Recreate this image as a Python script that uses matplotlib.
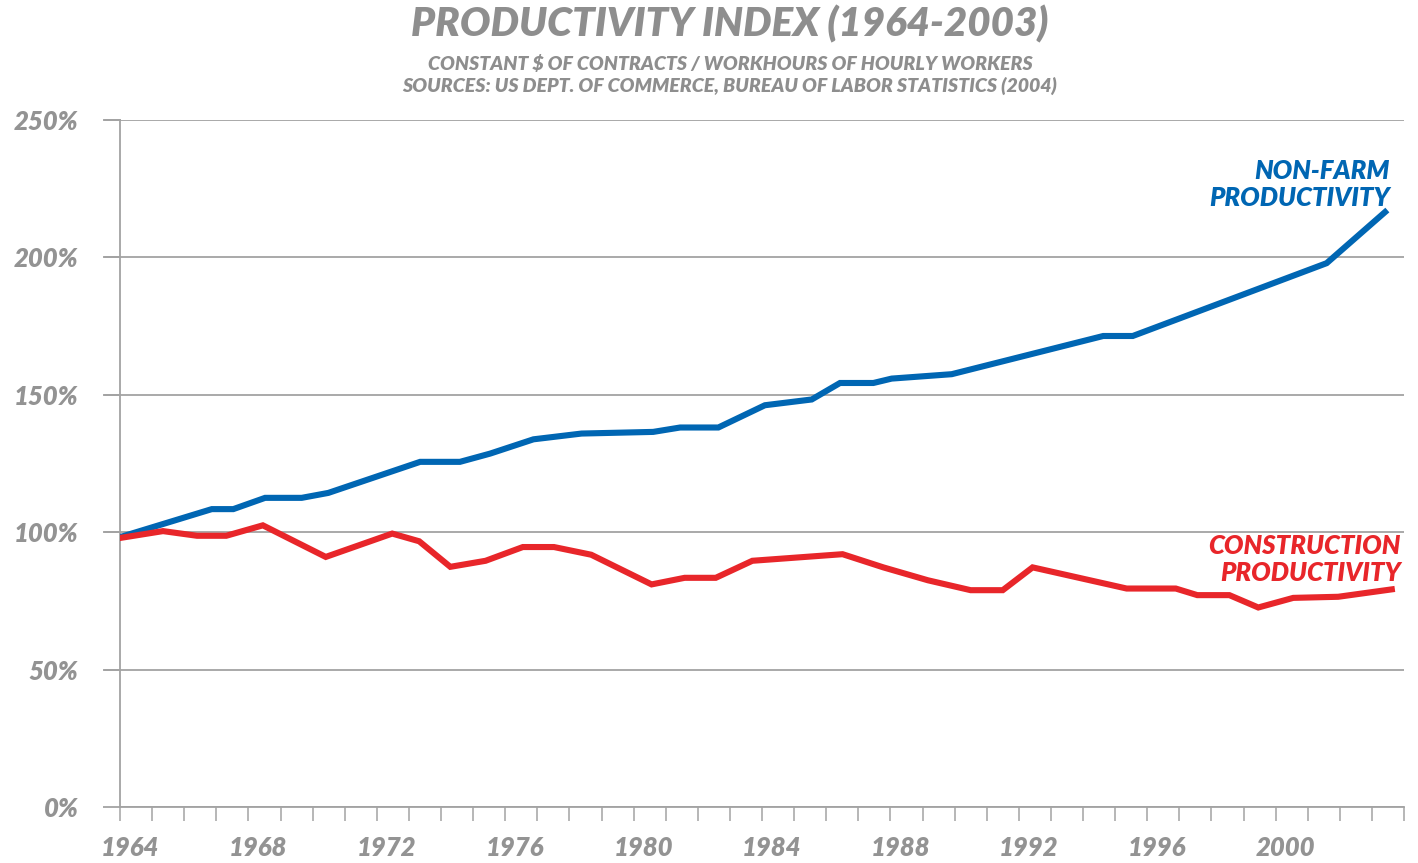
import numpy as np
import matplotlib.pyplot as plt
import matplotlib.transforms as mtransforms

# data (index, % of 1964)
nonfarm_years = [1964.00, 1966.86, 1967.53, 1968.52, 1969.66, 1970.49, 1973.35, 1974.59,
                 1975.53, 1976.88, 1978.38, 1980.61, 1981.45, 1982.64, 1984.09, 1985.55,
                 1986.43, 1987.47, 1988.04, 1989.91, 1994.63, 1995.55, 2001.59, 2003.41]
nonfarm_pct = [98.2, 108.4, 108.4, 112.5, 112.5, 114.3, 125.6, 125.6,
               128.6, 133.8, 135.9, 136.5, 138.1, 138.1, 146.2, 148.3,
               154.3, 154.3, 155.9, 157.5, 171.4, 171.4, 197.9, 216.5]

constr_years = [1964.00, 1965.34, 1966.40, 1967.31, 1968.45, 1970.41, 1972.48, 1973.32,
                1974.29, 1975.39, 1976.55, 1977.52, 1978.68, 1980.56, 1981.59, 1982.56,
                1983.70, 1986.51, 1987.78, 1989.17, 1990.50, 1991.50, 1992.43, 1995.36,
                1996.89, 1997.56, 1998.56, 1999.46, 2000.55, 2001.95, 2003.62]
constr_pct = [97.9, 100.4, 98.7, 98.7, 102.5, 91.0, 99.5, 96.7,
              87.4, 89.6, 94.6, 94.6, 91.8, 81.0, 83.4, 83.4,
              89.6, 92.0, 87.2, 82.5, 78.9, 78.9, 87.2, 79.5,
              79.5, 77.1, 77.1, 72.6, 76.1, 76.5, 79.2]

year_labels = list(range(1964, 2001, 4))
pct_ticks = [0, 50, 100, 150, 200, 250]

blue = '#0066b3'
red = '#e8262a'
grey = '#a3a3a3'
txt = '#939393'
fam = 'Lato'

fig = plt.figure(figsize=(14.18, 8.63), dpi=100)
ax = fig.add_axes([120/1418, 56/863, 1284/1418, 687/863])

ax.plot(nonfarm_years, nonfarm_pct, color=blue, lw=4.4, solid_joinstyle='miter', zorder=3)
ax.plot(constr_years, constr_pct, color=red, lw=4.4, solid_joinstyle='miter', zorder=3)

ax.set_xlim(1964, 2004)
ax.set_ylim(0, 250)
ax.set_xticks(range(1964, 2005))
ax.set_xticklabels([str(y) if y in year_labels else '' for y in range(1964, 2005)])
ax.set_yticks(pct_ticks)
ax.set_yticklabels([f'{p}%' for p in pct_ticks])
ax.grid(axis='y', color=grey, lw=1.3, zorder=1)
for s in ['top', 'right']:
    ax.spines[s].set_visible(False)
for s in ['left', 'bottom']:
    ax.spines[s].set_color(grey)
    ax.spines[s].set_linewidth(1.3)
ax.tick_params(axis='x', length=10, width=1.1, color=grey, pad=11)
ax.tick_params(axis='y', length=12, width=1.3, color=grey, pad=18)
shift = mtransforms.ScaledTranslation(10/100, 0, fig.dpi_scale_trans)
for lab in ax.get_xticklabels():
    lab.set_transform(lab.get_transform() + shift)
for lab in ax.get_xticklabels() + ax.get_yticklabels():
    lab.set_fontfamily(fam)
    lab.set_fontweight('heavy')
    lab.set_fontstyle('italic')
    lab.set_fontsize(18.5)
    lab.set_color(txt)
# grid lines stick out left of the axis like the ticks
for p in pct_ticks[1:]:
    ax.plot([-0.012, 0], [p, p], transform=ax.get_yaxis_transform(), color=grey,
            lw=1.3, clip_on=False)

ax.text(2003.55, 226.5, 'NON-FARM\nPRODUCTIVITY', color=blue, ha='right', va='center',
        multialignment='right', fontsize=18.5, fontweight='heavy', style='italic',
        family=fam, linespacing=1.15)
ax.text(2003.9, 90.2, 'CONSTRUCTION\nPRODUCTIVITY', color=red, ha='right', va='center',
        multialignment='right', fontsize=18.5, fontweight='heavy', style='italic',
        family=fam, linespacing=1.15)

fig.text(730/1418, 1 - 24/863, 'PRODUCTIVITY INDEX (1964-2003)', ha='center', va='center',
         fontsize=29, fontweight='heavy', style='italic', family=fam, color='#8e8e8e')
fig.text(730/1418, 1 - 64/863, 'CONSTANT $ OF CONTRACTS / WORKHOURS OF HOURLY WORKERS',
         ha='center', va='center', fontsize=14, fontweight='heavy', style='italic',
         family=fam, color='#8e8e8e')
fig.text(730/1418, 1 - 86/863, 'SOURCES: US DEPT. OF COMMERCE, BUREAU OF LABOR STATISTICS (2004)',
         ha='center', va='center', fontsize=14, fontweight='heavy', style='italic',
         family=fam, color='#8e8e8e')

fig.savefig('out.png', dpi=100)
